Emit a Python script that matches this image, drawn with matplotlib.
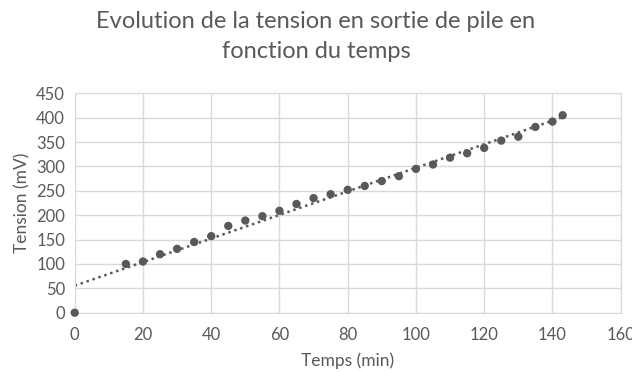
import numpy as np
import matplotlib
matplotlib.use("Agg")
import matplotlib.pyplot as plt

temps = [0, 15, 20, 25, 30, 35, 40, 45, 50, 55, 60, 65, 70, 75, 80, 85, 90, 95,
         100, 105, 110, 115, 120, 125, 130, 135, 140, 143]
tension = [0, 100, 105, 120, 131, 145, 157, 178, 189, 198, 209, 223, 235, 243, 252,
           260, 270, 280, 295, 304, 318, 327, 338, 353, 361, 381, 392, 405]
xticks = [0, 20, 40, 60, 80, 100, 120, 140, 160]
yticks = [0, 50, 100, 150, 200, 250, 300, 350, 400, 450]
title_lines = ['Evolution de la tension en sortie de pile en', 'fonction du temps']

plt.rcParams['font.family'] = ['Lato', 'DejaVu Sans']
txt = '#595959'
grid = '#d9d9d9'
mark = '#595959'

W, H = 632, 372
fig = plt.figure(figsize=(W/100, H/100), dpi=100)
ax = fig.add_axes([74.7/W, 59.3/H, 546/W, 219.4/H])

x = np.array(temps, float)
y = np.array(tension, float)
a, b = np.polyfit(x, y, 1)
xl = np.array([x.min(), x.max()])
ax.plot(xl, a*xl + b, linestyle=(0, (1, 1.5)), color=mark, lw=1.8, zorder=2)
ax.scatter(x, y, s=36, color=mark, zorder=3, edgecolors='none', clip_on=False)

ax.set_xlim(0, 160)
ax.set_ylim(0, 450)
ax.set_xticks(xticks)
ax.set_yticks(yticks)
ax.grid(True, color=grid, lw=1)
ax.set_axisbelow(True)
for s in ax.spines.values():
    s.set_color(grid)
ax.tick_params(axis='y', length=0, colors=txt, labelsize=12, pad=7)
ax.tick_params(axis='x', length=0, colors=txt, labelsize=12, pad=10)
ax.set_xlabel('Temps (min)', color=txt, fontsize=12.5, labelpad=7)
ax.set_ylabel('Tension (mV)', color=txt, fontsize=12.5, labelpad=4)
for i, line in enumerate(title_lines):
    fig.text(0.5, 1 - (22 + 30*i)/H, line, ha='center', va='center',
             color=txt, fontsize=17)
fig.savefig('out.png', dpi=100, facecolor='white')
